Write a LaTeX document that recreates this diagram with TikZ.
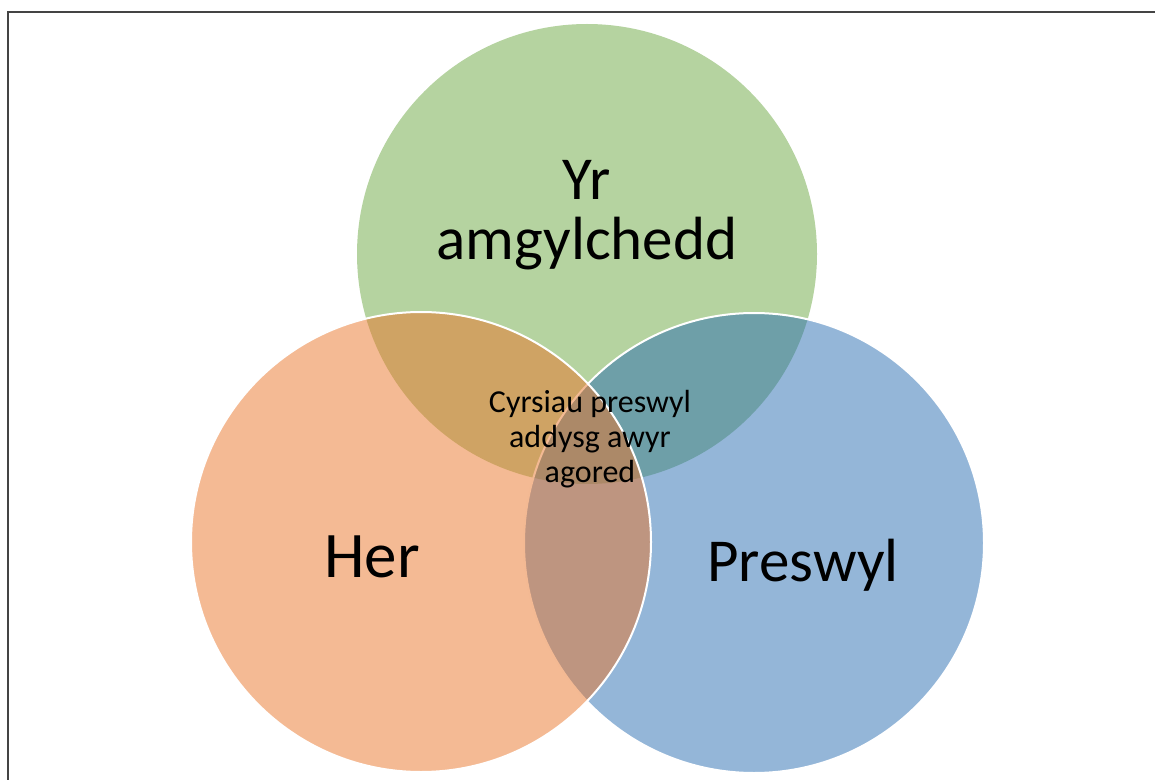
\documentclass[tikz,border=0pt]{standalone}
\usepackage{fontspec}
\setmainfont{Carlito}
\usetikzlibrary{positioning}

\definecolor{venngreen}{RGB}{107,167,65}
\definecolor{vennblue}{RGB}{41,109,177}
\definecolor{vennorange}{RGB}{233,117,41}
\definecolor{framegray}{RGB}{68,68,68}

\begin{document}
\begin{tikzpicture}[x=0.5pt,y=-0.5pt,
  venn/.style={circle, minimum size=230pt, inner sep=0pt, fill opacity=0.5},
  bigtext/.style={font=\fontsize{30.5}{30}\selectfont, align=center, inner sep=0pt},
  midtext/.style={font=\fontsize{16}{17.5}\selectfont, align=center, inner sep=0pt}]
\useasboundingbox (0,0) rectangle (1155,780);
\draw [framegray, line width=1.3pt] (8,12) rectangle (1175,800);

\node [venn, fill=venngreen] (amgylchedd) at (587,254) {};
\node [venn, fill=vennblue, draw=white, line width=1pt] (preswyl) at (754,543) {};
\node [venn, fill=vennorange, draw=white, line width=1pt] (her) at (421,542) {};

\node [bigtext] (amgtext) at (587,215) {Yr\\amgylchedd};
\node [bigtext, font=\fontsize{32.5}{32}\selectfont] (hertext) at (372,557) {Her};
\node [bigtext] (prestext) at (803,565) {Preswyl};
\node [midtext] (cyrsiau) at (590,439) {Cyrsiau preswyl\\addysg awyr\\agored};
\end{tikzpicture}
\end{document}
